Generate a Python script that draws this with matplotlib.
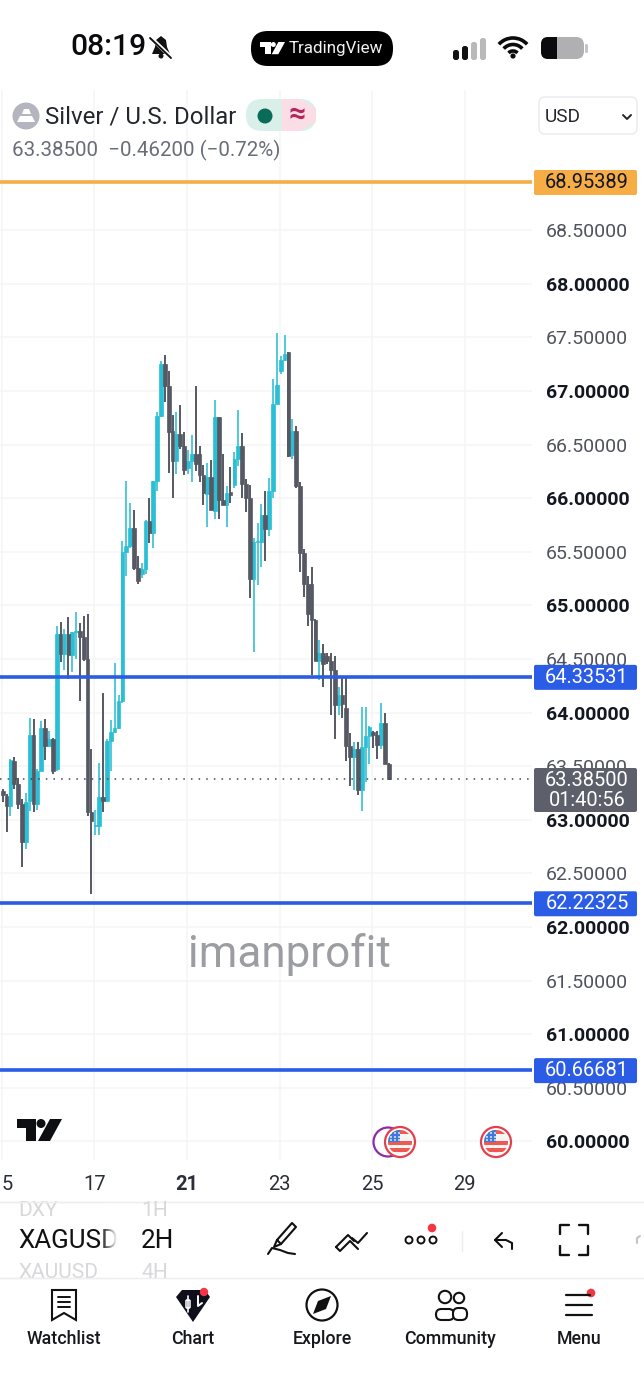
import numpy as np
import matplotlib
matplotlib.use('Agg')
import matplotlib.pyplot as plt
from matplotlib.patches import Circle, FancyBboxPatch, Rectangle, Arc, Polygon

plt.rcParams['font.family'] = ['Roboto', 'DejaVu Sans']

# candle data, 2H bars
opens = [63.27,63.22,63.13,63.55,63.33,63.15,62.79,63.18,63.79,63.15,63.46,63.86,63.69,63.75,63.47,64.73,64.55,64.73,64.54,64.75,
         64.76,64.71,64.50,63.07,62.94,62.94,63.21,63.18,63.74,63.82,63.86,64.11,65.50,65.55,65.72,65.35,65.29,65.34,65.79,65.68,
         66.16,66.77,67.25,67.05,66.63,66.35,66.60,66.49,66.28,66.35,66.41,66.41,66.22,66.04,66.20,65.88,66.76,65.98,65.94,66.06,
         66.12,66.37,66.49,66.13,66.00,65.25,65.59,65.59,65.84,65.71,66.07,66.88,67.19,67.29,67.36,66.40,66.63,66.11,65.49,65.20,
         65.20,64.86,64.48,64.56,64.53,64.48,64.40,64.07,64.16,64.04,63.69,63.59,63.66,63.28,63.68,63.78,63.82,63.79,63.70,63.90,63.52]
highs = [63.29,63.24,63.57,63.59,63.39,63.19,63.25,63.95,63.94,63.47,63.92,63.94,63.83,63.76,64.81,64.85,64.78,64.89,64.75,64.94,
         64.84,64.90,64.92,63.66,63.09,63.53,64.18,63.75,63.93,64.46,64.16,65.60,66.16,65.96,65.89,65.46,65.40,65.80,66.00,66.16,
         66.80,67.28,67.34,67.19,66.78,66.80,66.87,66.62,66.45,66.59,67.05,66.49,66.31,66.33,66.36,66.92,66.76,66.41,66.11,66.29,
         66.43,66.82,66.61,66.18,66.12,65.63,65.77,65.95,66.07,66.19,67.11,67.54,67.33,67.52,67.36,66.74,66.67,66.15,65.53,65.27,
         65.36,64.87,64.68,64.64,64.56,64.56,64.53,64.24,64.34,64.34,63.81,63.73,63.73,64.05,64.05,63.88,63.83,63.83,64.09,64.00,63.53]
lows = [63.17,62.89,63.04,63.29,63.10,62.56,62.73,63.08,63.07,63.09,63.46,63.56,63.68,63.43,63.46,64.47,64.40,64.31,64.38,64.50,
        64.11,64.48,63.04,62.31,62.86,62.86,63.07,63.18,63.46,63.81,63.85,64.09,65.27,65.54,65.33,65.20,65.26,65.29,65.58,65.54,
        66.07,66.76,66.90,66.24,66.00,66.23,66.46,66.22,66.23,66.15,66.25,66.15,65.94,65.73,65.89,65.81,65.81,65.94,65.73,65.96,
        66.10,66.30,66.00,65.87,65.07,64.57,65.19,65.36,65.41,65.65,66.00,66.88,67.16,67.28,66.38,66.37,66.10,65.31,65.08,64.81,
        64.35,64.48,64.30,64.24,64.45,63.98,63.75,63.98,63.95,63.55,63.32,63.28,63.23,63.08,63.35,63.52,63.67,63.57,63.66,63.52,63.37]
closes = [63.23,63.13,63.56,63.33,63.15,62.79,63.17,63.79,63.15,63.46,63.86,63.69,63.75,63.46,64.73,64.55,64.73,64.54,64.75,64.76,
          64.71,64.50,63.07,62.99,62.95,63.21,63.18,63.74,63.82,63.86,64.11,65.50,65.55,65.72,65.35,65.23,65.34,65.79,65.68,66.16,
          66.77,67.25,67.05,66.62,66.35,66.60,66.49,66.26,66.35,66.41,66.32,66.22,66.05,66.20,65.89,66.76,65.98,65.94,66.05,66.03,
          66.37,66.49,66.13,66.00,65.25,65.59,65.60,65.84,65.71,66.07,66.88,67.06,67.29,67.35,66.39,66.63,66.11,65.49,65.20,64.92,
          64.86,64.48,64.56,64.45,64.48,64.40,64.07,64.16,64.08,63.69,63.59,63.66,63.28,63.68,63.78,63.87,63.79,63.70,63.90,63.52,63.385]

price_ticks = [60.0,60.5,61.0,61.5,62.0,62.5,63.0,63.5,64.0,64.5,65.0,65.5,66.0,66.5,67.0,67.5,68.0,68.5]
date_ticks = [-0.3, 23.7, 47.7, 71.7, 95.7, 119.7]
date_labels = ['5', '17', '21', '23', '25', '29']
blue_levels = [64.33531, 62.22325, 60.66681]
orange_level = 68.95389
last_price = 63.385

CYAN = '#29bfd5'
DARK = '#565964'
BLUE = '#2a5ce6'
ORANGE = '#f6ad45'
INK = '#131722'

W, H = 644, 1400
fig = plt.figure(figsize=(W / 100, H / 100), dpi=100, facecolor='white')

# main chart, pixel box x 0-532, y 90-1160
ax = fig.add_axes([0, 1 - 1160 / H, 532 / W, 1070 / H])
ax.set_xlim(-0.7, 137.1)
ax.set_ylim(59.827, 69.808)
for s in ax.spines.values():
    s.set_visible(False)
ax.grid(True, color='#f5f5f6', lw=1.1)
ax.set_axisbelow(True)

ax.yaxis.tick_right()
ax.set_yticks(price_ticks)
ax.set_yticklabels(['%.5f' % p for p in price_ticks], fontsize=14)
for lab, p in zip(ax.get_yticklabels(), price_ticks):
    if p == int(p):
        lab.set_fontweight('bold')
        lab.set_color(INK)
    else:
        lab.set_color('#50535e')
ax.set_xticks(date_ticks)
ax.set_xticklabels(date_labels, fontsize=14.5, color='#2a2e39')
ax.get_xticklabels()[0].set_ha('left')
ax.get_xticklabels()[2].set_fontweight('bold')
ax.tick_params(length=0)
ax.tick_params(axis='y', pad=10)
ax.tick_params(axis='x', pad=10.5)

idx = np.arange(len(opens))
o, h, l, c = map(np.array, (opens, highs, lows, closes))
up = c >= o
ax.vlines(idx[up], l[up], h[up], color='#52c8da', lw=1.4, zorder=3)
ax.bar(idx[up], (c - o)[up], bottom=o[up], width=0.95, color=CYAN, ec=CYAN, lw=0.5, zorder=3)
ax.vlines(idx[~up], l[~up], h[~up], color=DARK, lw=1.4, zorder=4)
ax.bar(idx[~up], (c - o)[~up], bottom=o[~up], width=0.95, color=DARK, ec=DARK, lw=0.5, zorder=4)

ax.axhline(last_price, color='#444750', lw=1.1, ls=(0, (1, 4)), zorder=5)
ax.axhline(orange_level, color=ORANGE, lw=2.6, zorder=6)
for lv in blue_levels:
    ax.axhline(lv, color=BLUE, lw=2.6, zorder=6)

# screen furniture in pixel coordinates
ui = fig.add_axes([0, 0, 1, 1], zorder=10)
ui.set_xlim(0, W)
ui.set_ylim(H, 0)
ui.axis('off')
ui.patch.set_alpha(0)


def py(p):
    return 284.5 + (68 - p) * 107.2


def rbox(x0, y0, x1, y1, r, **kw):
    kw.setdefault('lw', 0)
    ui.add_patch(FancyBboxPatch((x0 + r, y0 + r), x1 - x0 - 2 * r, y1 - y0 - 2 * r,
                                boxstyle='round,pad=%f,rounding_size=%f' % (r, r), **kw))


def txt(x, y, s, px, color=INK, ha='left', weight='normal', **kw):
    ui.text(x, y, s, fontsize=px * 0.72, color=color, ha=ha, va='center', fontweight=weight, **kw)


def line(xs, ys, color=INK, lw=1.5, **kw):
    ui.plot(xs, ys, color=color, lw=lw, solid_capstyle='round', solid_joinstyle='round', **kw)


def tv_logo(x, y, s, color):
    # s is the logo width
    k = s / 45
    ui.add_patch(Polygon([(x, y), (x + 19 * k, y), (x + 19 * k, y + 22 * k), (x + 9 * k, y + 22 * k),
                          (x + 9 * k, y + 9 * k), (x, y + 9 * k)], color=color, lw=0))
    ui.add_patch(Circle((x + 24 * k, y + 4.5 * k), 4.5 * k, color=color, lw=0))
    ui.add_patch(Polygon([(x + 33 * k, y), (x + 45 * k, y), (x + 33 * k, y + 22 * k), (x + 21 * k, y + 22 * k)],
                         color=color, lw=0))


def flag(cx, cy):
    ui.add_patch(Circle((cx, cy), 15, fc='white', ec='#e2404c', lw=1.6, zorder=3))
    ui.add_patch(Circle((cx, cy), 12, fc='#f4f4f4', lw=0, zorder=3))
    w = Circle((cx, cy), 12, transform=ui.transData)
    for yy, col in ((cy - 1, '#ee5a50'), (cy + 6, '#ee5a50')):
        ui.add_patch(Rectangle((cx - 13, yy), 26, 4, color=col, lw=0, zorder=3, clip_path=w))
    ui.add_patch(Rectangle((cx - 13, cy - 13), 26, 5, color='#ee5a50', lw=0, zorder=3, clip_path=w))
    ui.add_patch(Rectangle((cx - 13, cy - 13), 13, 13, color='#3f78d8', lw=0, zorder=4, clip_path=w))
    for dx in (-9, -5, -1):
        for dy in (-9, -5, -2):
            ui.add_patch(Circle((cx + dx, cy + dy), 0.9, color='white', lw=0, zorder=5))


# price labels
rbox(534, 170, 637, 195, 2, fc=ORANGE)
txt(587, py(orange_level), '68.95389', 20, color=INK, ha='center')
for lv in blue_levels:
    rbox(534, py(lv) - 12.5, 637, py(lv) + 12.5, 2, fc=BLUE)
    txt(587, py(lv), '%.5f' % lv, 20, color='white', ha='center')
rbox(534, 768, 637, 812, 2, fc='#5d606b')
txt(587, 780, '63.38500', 20, color='white', ha='center')
txt(587, 801, '01:40:56', 20, color='white', ha='center')

# watermark
txt(289, 955, 'imanprofit', 44, color='#9c9da2', ha='center')

# status bar
txt(70, 47, '08:19', 30, color='#0b0b0d', weight='medium')
ui.add_patch(Polygon([(152, 54), (155, 47), (156, 40), (161, 36), (166, 40), (167, 47), (170, 54)], color='#111', lw=0))
ui.add_patch(Circle((161, 56), 2.5, color='#111', lw=0))
line([150, 172], [37, 58], color='white', lw=2.8)
line([150, 171], [38, 58], color='#111', lw=1.4)
rbox(251, 31, 393, 66, 17, fc='black')
tv_logo(260, 42, 25, 'white')
txt(289, 49, 'TradingView', 17, color='#f2f2f2')
for i, (x, top, col) in enumerate(zip([453, 462, 471, 480], [50, 46, 42, 38], ['#111', '#111', '#b9b9bb', '#b9b9bb'])):
    rbox(x, top, x + 6, 60, 2.5, fc=col)
for r, a in ((19, 1), (12.5, 1), (6, 1)):
    ui.add_patch(Arc((513, 57), 2 * r, 2 * r, theta1=222, theta2=318, color='#0b0b0d', lw=2.6))
ui.add_patch(Circle((513, 56), 2.6, color='#0b0b0d', lw=0))
rbox(541, 37, 584, 59, 8, fc='#b0b0b2')
ui.add_patch(FancyBboxPatch((548, 44), 0, 8, boxstyle='round,pad=7,rounding_size=7', fc='#0b0b0d', lw=0))
ui.add_patch(Rectangle((556, 37), 8, 22, fc='#b0b0b2', lw=0))
ui.add_patch(Rectangle((541 + 8, 37), 8, 22, fc='#0b0b0d', lw=0))
rbox(585, 44, 588, 53, 1.4, fc='#c4c4c6')

# symbol header
ui.add_patch(Circle((26, 116), 13.5, color='#b4b5bf', lw=0))
ui.add_patch(Polygon([(17, 122), (20, 116), (32, 116), (35, 122)], color='white', lw=0))
ui.add_patch(Polygon([(22, 114), (24, 109), (29, 109), (31, 114)], color='white', lw=0))
txt(45, 117, 'Silver / U.S. Dollar', 24, color='#24262e')
rbox(246, 99, 316, 131, 16, fc='#d9f0ea')
ui.add_patch(Polygon([(282, 99), (300, 99), (316, 108), (316, 122), (300, 131), (282, 131)], color='#fbdde6', lw=0))
ui.add_patch(Circle((265, 116), 7.5, color='#0a6b58', lw=0))
txt(297, 115, '\u2248', 30, color='#b3265e', ha='center', weight='bold')
txt(12, 150.5, '63.38500  \u22120.46200 (\u22120.72%)', 20.5, color='#6a6d78')
rbox(539, 97, 637, 134, 6, fc='white', ec='#ececef', lw=1.1)
txt(545, 117, 'USD', 19, color='#24262e')
line([623, 627, 631], [115, 119, 115], color='#222', lw=1.4)

# tv logo and event flags on the chart
tv_logo(17, 1119, 45, '#0e0f13')
ui.add_patch(Circle((388, 1142), 14.5, fc='white', ec='#8e2ca8', lw=1.6))
flag(400, 1142)
flag(496, 1142)

# toolbar
line([0, 644], [1202, 1202], color='#eeeef0', lw=1)
line([0, 644], [1278, 1278], color='#eeeef0', lw=1)
txt(18, 1210, 'DXY', 21, color='#d8d8da')
txt(141, 1210, '1H', 21, color='#d8d8da')
txt(18, 1241, 'XAGUSD', 26, color='#111')
txt(141, 1241, '2H', 26, color='#111')
txt(18, 1273, 'XAUUSD', 21, color='#d8d8da')
txt(141, 1273, '4H', 21, color='#d8d8da')
fade = np.linspace(0, 1, 20).reshape(1, -1, 1)
rgba = np.dstack([np.ones((1, 20, 3)), fade])
ui.imshow(rgba, extent=(100, 118, 1280, 1198), aspect='auto', zorder=6)
ui.add_patch(Rectangle((118, 1198), 18, 82, fc='white', lw=0, zorder=6))
ui.set_xlim(0, W)
ui.set_ylim(H, 0)
# redraw the two separators over the fade
line([0, 136], [1202, 1202], color='#eeeef0', lw=1, zorder=7)
line([0, 136], [1278, 1278], color='#eeeef0', lw=1, zorder=7)

# pen
line([277, 292, 296, 281, 277], [1240, 1223, 1227, 1244, 1240], color='#111', lw=1.5)
line([277, 274, 281], [1240, 1247, 1244], color='#111', lw=1.5)
line([268, 272, 280, 288, 295], [1254, 1248, 1250, 1253, 1254], color='#111', lw=1.5)
# double tick
line([336, 348, 354], [1247, 1235, 1241], color='#111', lw=1.5)
line([336, 340, 350, 358], [1247, 1251, 1241, 1249], color='#111', lw=1.5)
line([352, 358, 367], [1238, 1243, 1233], color='#111', lw=1.5)
for x in (409, 421, 433):
    ui.add_patch(Circle((x, 1240), 3.5, fc='white', ec='#111', lw=1.4))
ui.add_patch(Circle((432, 1228), 4.3, color='#f23645', lw=0))
line([462, 462], [1231, 1251], color='#ececef', lw=1)
line([502, 495, 502], [1233, 1240, 1247], color='#111', lw=1.5)
line([495, 506, 512, 512], [1240, 1240, 1243, 1249], color='#111', lw=1.5)
for sx, sy in ((1, 1), (-1, 1), (1, -1), (-1, -1)):
    cx, cy = 574 - sx * 14, 1240 - sy * 15
    line([cx + sx * 9, cx, cx, cx, cx], [cy, cy, cy, cy, cy + sy * 9], color='#111', lw=1.7)
line([637, 637, 640], [1243, 1238, 1236], color='#c4c4c6', lw=1.5)

# bottom nav
for x, s in zip([64, 193, 322, 450, 579], ['Watchlist', 'Chart', 'Explore', 'Community', 'Menu']):
    txt(x, 1339, s, 17.8, color='#17181d', ha='center', weight='medium')
ui.add_patch(Polygon([(52, 1290), (76, 1290), (76, 1320), (64, 1313), (52, 1320)], fc='white', ec='#111', lw=1.5))
for yy in (1297, 1302, 1307):
    line([58, 70], [yy, yy], color='#111', lw=1.4)
ui.add_patch(Polygon([(176, 1297), (182, 1290), (205, 1290), (210, 1297), (193, 1322)], color='#0e0f1a', lw=0))
line([188, 188], [1296, 1312], color='white', lw=1.2)
rbox(186, 1300, 190, 1308, 1, fc='#0e0f1a', ec='white', lw=1.1)
line([198, 198, 202], [1296, 1306, 1303], color='white', lw=1.4)
ui.add_patch(Circle((204, 1292), 4.2, color='#f23645', lw=0, ec='white', zorder=4))
ui.add_patch(Circle((322, 1305), 15.5, fc='white', ec='#111', lw=1.6))
ui.add_patch(Polygon([(313, 1314), (318, 1301), (331, 1296), (326, 1309)], color='#111', lw=0))
ui.add_patch(Circle((445, 1297), 6.2, fc='white', ec='#111', lw=1.5))
ui.add_patch(Circle((459, 1298), 5.2, fc='white', ec='#111', lw=1.5))
rbox(436, 1309, 454, 1320, 5.4, fc='white', ec='#111', lw=1.5)
rbox(453, 1308, 467, 1320, 5.4, fc='white', ec='#111', lw=1.5)
line([566, 590], [1295, 1295], color='#111', lw=1.6)
line([566, 592], [1305, 1305], color='#111', lw=1.6)
line([566, 592], [1315, 1315], color='#111', lw=1.6)
ui.add_patch(Circle((591, 1293), 4.3, color='#f23645', lw=0))

fig.savefig('out.png', dpi=100, facecolor='white')
